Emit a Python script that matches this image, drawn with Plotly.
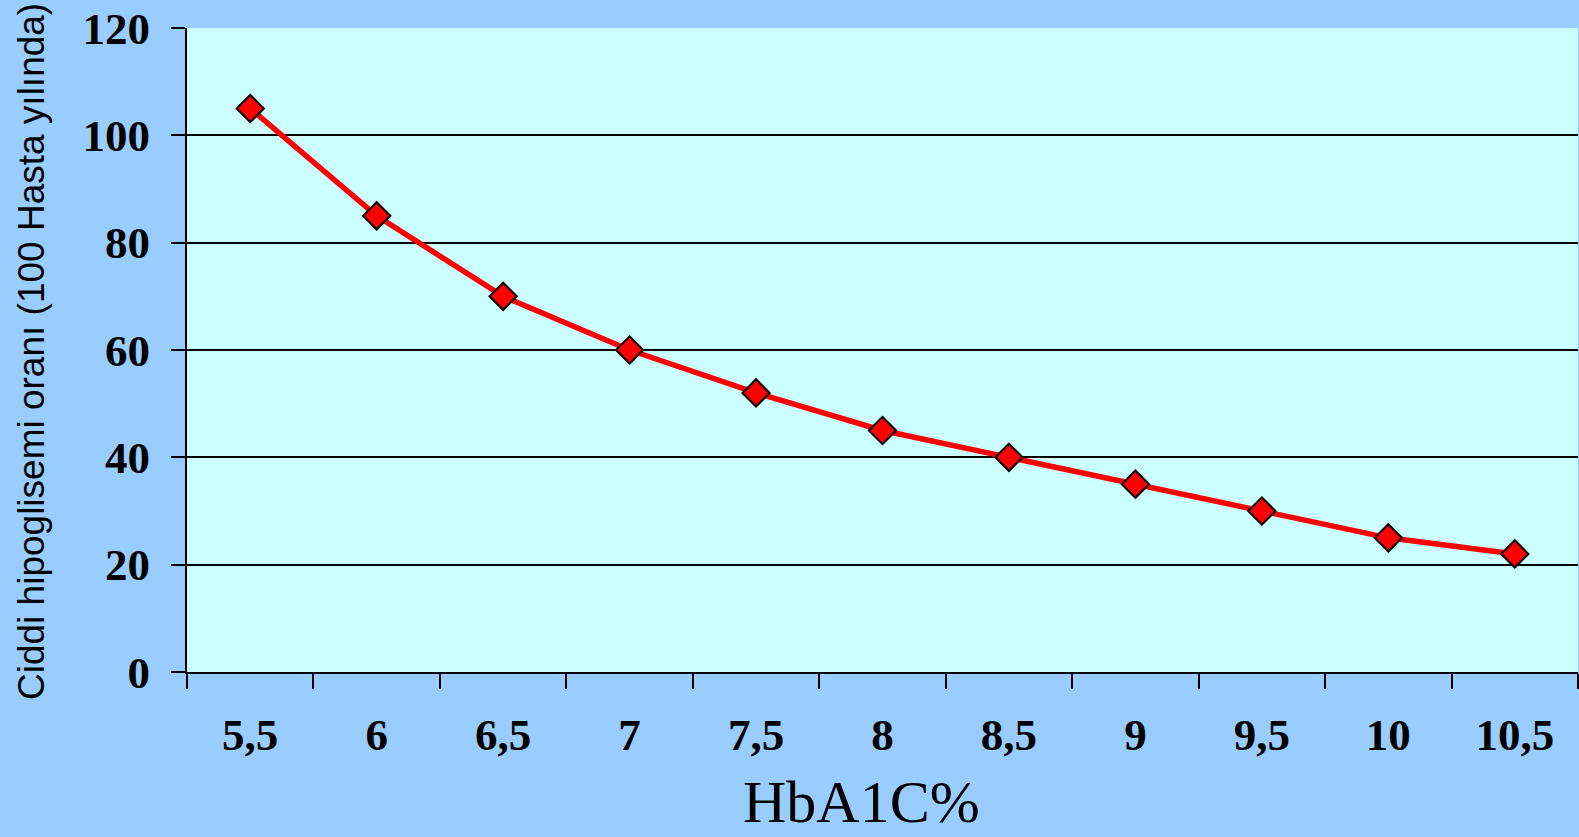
import plotly.graph_objects as go

# HbA1C categories and severe hypoglycaemia rate per 100 patient-years
hba1c = ["5,5", "6", "6,5", "7", "7,5", "8", "8,5", "9", "9,5", "10", "10,5"]
rate = [105, 85, 70, 60, 52, 45, 40, 35, 30, 25, 22]
y_ticks = [0, 20, 40, 60, 80, 100, 120]

W, H = 1579, 837
L, R, T, B = 187, 1, 28, 165
PW, PH = W - L - R, H - T - B


def px_x(x):
    return (x - L) / PW


def px_y(y):
    return (H - B - y) / PH


fig = go.Figure()
fig.add_trace(go.Scatter(
    x=hba1c, y=rate, mode="lines+markers",
    line=dict(color="#FF0000", width=5.5),
    marker=dict(symbol="diamond", size=21, color="#FF0000",
                line=dict(color="#000000", width=2)),
    showlegend=False, cliponaxis=False,
))

tick_font = dict(family="Liberation Serif, Times New Roman, serif", size=45,
                 color="#000000", weight="bold")

fig.update_layout(
    width=W, height=H,
    margin=dict(l=L, r=R, t=T, b=B, pad=0),
    paper_bgcolor="#99CCFF",
    plot_bgcolor="#CCFFFF",
    xaxis=dict(
        type="category", tickson="boundaries", ticks="outside", ticklen=15,
        tickwidth=2, tickcolor="#000000", showgrid=False,
        showline=True, linecolor="#000000", linewidth=2,
        tickfont=tick_font, ticklabelstandoff=22, range=[-0.5, 10.5],
    ),
    yaxis=dict(
        range=[0, 120], tickvals=y_ticks, ticks="outside", ticklen=14,
        tickwidth=2, tickcolor="#000000",
        showgrid=True, gridcolor="#000000", gridwidth=1.5,
        showline=True, linecolor="#000000", linewidth=2,
        tickfont=tick_font, ticklabelstandoff=12, zeroline=False,
    ),
    annotations=[
        dict(text="HbA1C%", xref="paper", yref="paper",
             x=px_x(861), y=px_y(837), xanchor="center", yanchor="bottom",
             showarrow=False,
             font=dict(family="Liberation Serif, Times New Roman, serif",
                       size=60, color="#000000")),
        dict(text="Ciddi hipoglisemi oranı (100 Hasta yılında)",
             xref="paper", yref="paper", textangle=-90,
             x=px_x(32), y=px_y(352), xanchor="center", yanchor="middle",
             showarrow=False,
             font=dict(family="Liberation Sans, Arial, sans-serif",
                       size=37, color="#000000")),
    ],
)

fig.write_html("out.html")
